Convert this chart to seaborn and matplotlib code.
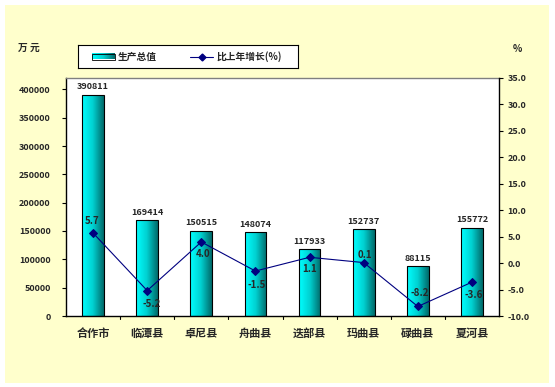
import numpy as np
import pandas as pd
import matplotlib
matplotlib.use("Agg")
import matplotlib.pyplot as plt
import seaborn as sns
from matplotlib.patches import Rectangle
from matplotlib.colors import LinearSegmentedColormap

regions = ["合作市", "临潭县", "卓尼县", "舟曲县", "迭部县", "玛曲县", "碌曲县", "夏河县"]
output_values = [390811, 169414, 150515, 148074, 117933, 152737, 88115, 155772]
growth_rates = [5.7, -5.2, 4.0, -1.5, 1.1, 0.1, -8.2, -3.6]
left_ticks = [0, 50000, 100000, 150000, 200000, 250000, 300000, 350000, 400000]
right_ticks = [-10.0, -5.0, 0.0, 5.0, 10.0, 15.0, 20.0, 25.0, 30.0, 35.0]
bar_label = "生产总值"
line_label = "比上年增长(%)"

sns.set_theme(style="white")
plt.rcParams['font.family'] = ['Noto Sans CJK SC', 'DejaVu Sans']
plt.rcParams['font.weight'] = 'bold'

W, H = 555, 387
LMAX = 420000
fig = plt.figure(figsize=(W / 100, H / 100), dpi=100)
fig.patch.set_facecolor("white")
fig.patches.append(Rectangle((5 / W, 1 - 383 / H), 544 / W, 378 / H, transform=fig.transFigure,
                             facecolor="#FFFFCC", edgecolor="none", zorder=-10))

x0, x1, ytop, ybot = 66, 499, 78, 316
ax = fig.add_axes([x0 / W, 1 - ybot / H, (x1 - x0) / W, (ybot - ytop) / H])
ax.set_facecolor("white")

df = pd.DataFrame({"region": regions, "value": output_values, "growth": growth_rates})
sns.barplot(data=df, x="region", y="value", ax=ax, width=0.4, color="#00E5E5",
            edgecolor="black", linewidth=0.8, saturation=1)

cmap = LinearSegmentedColormap.from_list("cy", ["#00FFFF", "#00D0D0", "#006A6A"])
grad = np.linspace(0, 1, 64).reshape(1, -1)
for p in ax.patches:
    bx, by, bw, bh = p.get_x(), p.get_y(), p.get_width(), p.get_height()
    im = ax.imshow(grad, cmap=cmap, aspect="auto", extent=[bx, bx + bw, by, by + bh],
                   zorder=p.get_zorder() + 0.1)
    im.set_clip_path(p)
    p.set_facecolor("none")
    p.set_zorder(p.get_zorder() + 0.2)
    ax.text(bx + bw / 2, by + bh + 6000, f"{int(bh)}", ha="center", va="bottom",
            fontsize=6.5, fontweight="bold")
ax.set_xlim(-0.5, len(regions) - 0.5)
ax.set_ylim(0, LMAX)

ax.set_yticks(left_ticks)
ax.set_yticklabels([str(t) for t in left_ticks], fontsize=6.5, fontweight="bold")
ax.set_xticks(range(len(regions)))
ax.set_xticklabels(regions, fontsize=8, fontweight="bold")
ax.tick_params(axis="x", length=0, pad=8)
ax.tick_params(axis="y", direction="out", length=3, width=0.8, color="black", left=True, pad=8)
for xb in np.arange(0.5, len(regions) - 0.5, 1):
    ax.plot([xb, xb], [0, -0.012 * LMAX], color="black", lw=0.8, clip_on=False)
ax.set_xlabel("")
ax.set_ylabel("")
for s in ["left", "bottom"]:
    ax.spines[s].set_color("black")
    ax.spines[s].set_linewidth(1.0)
ax.spines["top"].set_color("#808080")
ax.spines["top"].set_linewidth(1.0)
ax.spines["right"].set_visible(False)

ax2 = ax.twinx()
sns.lineplot(data=df, x="region", y="growth", ax=ax2, color="#000080", lw=0.8,
             marker="D", markersize=4, markeredgecolor="#000080", sort=False)
ax2.set_ylim(-10, 35)
ax2.set_yticks(right_ticks)
ax2.set_yticklabels([f"{t:.1f}" for t in right_ticks], fontsize=6.5, fontweight="bold")
ax2.tick_params(axis="y", direction="out", length=3, width=0.8, color="black", right=True, pad=3)
ax2.set_ylabel("")
ax2.set_xlabel("")
ax2.spines["right"].set_color("black")
ax2.spines["right"].set_linewidth(1.0)
for s in ["left", "top", "bottom"]:
    ax2.spines[s].set_visible(False)

offsets = [(0, 2.2), (0.1, -2.5), (0.05, -2.3), (0.05, -2.6), (0.03, -2.3), (0.05, 1.5), (0.05, 2.5), (0.05, -2.4)]
for i, (g, (dx, dy)) in enumerate(zip(growth_rates, offsets)):
    ax2.text(i + dx - 0.02, g + dy, f"{g:.1f}", ha="center", va="center", fontsize=7, fontweight="bold")

fig.text(18 / W, 1 - 48 / H, "万 元", fontsize=7, fontweight="bold", va="center")
fig.text(513 / W, 1 - 49 / H, "%", fontsize=7, fontweight="bold", va="center")

leg_ax = fig.add_axes([78 / W, 1 - 68 / H, 220 / W, 23 / H])
leg_ax.set_xticks([])
leg_ax.set_yticks([])
leg_ax.set_facecolor("white")
for s in leg_ax.spines.values():
    s.set_color("black")
    s.set_linewidth(0.8)
sw = Rectangle((14, 8.5), 23, 6, facecolor="none", edgecolor="black", lw=0.6, zorder=3)
leg_ax.add_patch(sw)
leg_ax.imshow(grad, cmap=cmap, aspect="auto", extent=[14, 37, 8.5, 14.5], zorder=2)
leg_ax.set_xlim(0, 220)
leg_ax.set_ylim(0, 23)
leg_ax.text(40, 11.5, bar_label, fontsize=7, fontweight="bold", va="center")
leg_ax.plot([112, 135], [11.5, 11.5], color="#000080", lw=0.8)
leg_ax.plot([123.5], [11.5], marker="D", markersize=3.5, color="#000080")
leg_ax.text(138, 11.5, line_label, fontsize=7, fontweight="bold", va="center")

fig.savefig("out.png", dpi=100)
